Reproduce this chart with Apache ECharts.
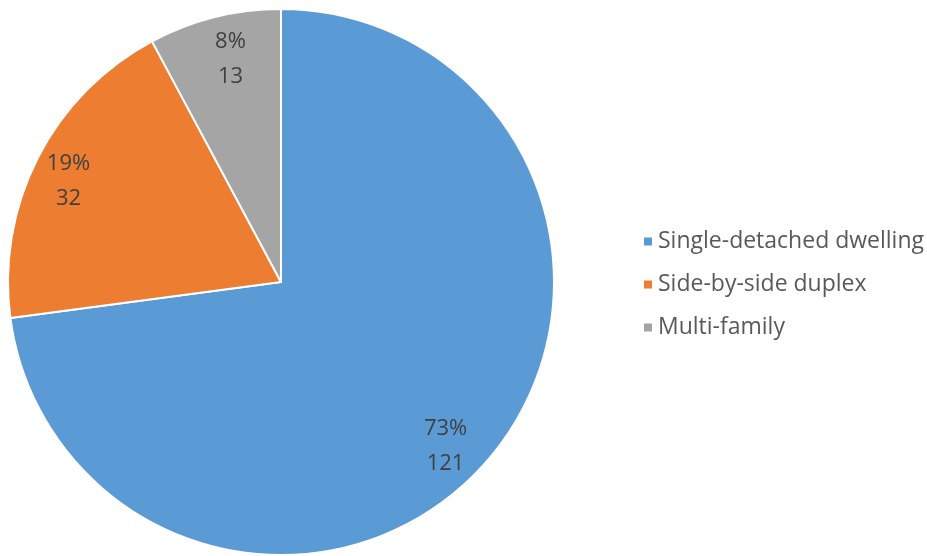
<!DOCTYPE html>
<html>
<head>
<meta charset="utf-8">
<script src="https://cdn.jsdelivr.net/npm/echarts@6/dist/echarts.min.js"></script>
<style>
  html, body { margin: 0; padding: 0; background: #fff; }
  #chart { width: 927px; height: 556px; }
</style>
</head>
<body>
<div id="chart"></div>
<script>
// Dwelling types and counts
const categories = ['Single-detached dwelling', 'Side-by-side duplex', 'Multi-family'];
const counts = [121, 32, 13];
const colors = ['#5B9BD5', '#ED7D31', '#A5A5A5'];

// small nudges for the value labels, per slice
const labelNudges = [[-10, 11], [-6, 5], [6, 2]];

const pieData = categories.map((name, i) => ({ name, value: counts[i], itemStyle: { color: colors[i] } }));

const center = [281, 282];
const outer = 273;

const chart = echarts.init(document.getElementById('chart'));
chart.setOption({
  animation: false,
  backgroundColor: '#ffffff',
  legend: {
    orient: 'vertical',
    left: 637,
    top: 222,
    itemWidth: 10,
    itemHeight: 10,
    itemGap: 14,
    icon: 'rect',
    data: categories,
    textStyle: { fontFamily: 'Open Sans', fontSize: 23, color: '#595959', lineHeight: 29 }
  },
  series: [
    {
      type: 'pie',
      center: center,
      radius: [0, outer],
      startAngle: 90,
      clockwise: true,
      data: pieData,
      itemStyle: { borderColor: '#ffffff', borderWidth: 2 },
      label: { show: false },
      labelLine: { show: false },
      silent: true
    },
    {
      // transparent ring that positions the value labels near the rim
      type: 'pie',
      center: center,
      radius: [185, outer],
      startAngle: 90,
      clockwise: true,
      data: pieData.map((d, i) => ({ name: d.name, value: d.value, label: { offset: labelNudges[i] } })),
      itemStyle: { color: 'rgba(0,0,0,0)' },
      legendHoverLink: false,
      silent: true,
      label: {
        show: true,
        position: 'inside',
        fontFamily: 'Open Sans',
        fontSize: 22,
        color: '#404040',
        lineHeight: 35,
        formatter: p => Math.round(p.percent) + '%\n' + p.value
      },
      labelLine: { show: false }
    }
  ]
});
</script>
</body>
</html>
